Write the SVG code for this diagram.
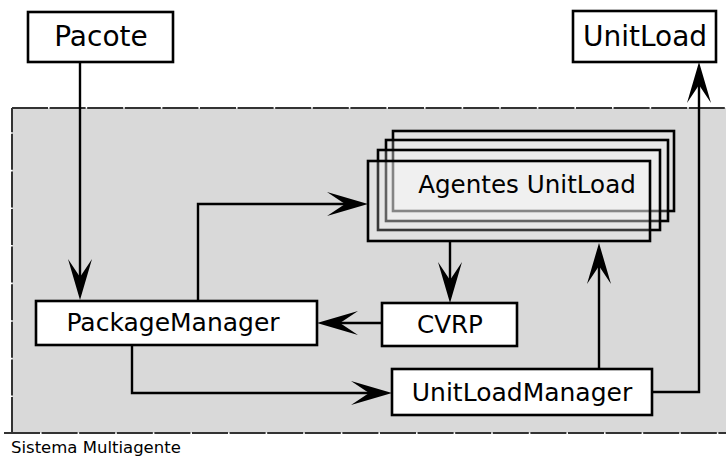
<svg xmlns="http://www.w3.org/2000/svg" width="726" height="458" viewBox="0 0 726 458">
<style>
.t{font-family:"DejaVu Sans",sans-serif;fill:#000;text-anchor:middle}
.box{fill:#fff;stroke:#000;stroke-width:2.6}
.ag{fill:#fff;fill-opacity:0.22;stroke:#000;stroke-width:2.6}
.c{fill:none;stroke:#000;stroke-width:2.4}
.dash{fill:none;stroke:#333;stroke-width:2;stroke-dasharray:36 1.6}
</style>
<defs>
<marker id="ah" viewBox="-42 -13 44 26" refX="-20" refY="0" markerWidth="44" markerHeight="26" orient="auto" markerUnits="userSpaceOnUse">
<path d="M0,0 L-41,-12 L-23,0 L-41,12 Z" fill="#000"/>
</marker>
</defs>
<g id="container">
<rect x="12" y="108" width="730" height="325" fill="#d9d9d9"/>
<path class="dash" d="M12,108 H742"/>
<path class="dash" d="M12,433 V108"/>
<path class="dash" d="M4,433 H742"/>
<text x="11" y="453" style="font-family:'DejaVu Sans',sans-serif;font-size:16.5px;fill:#000">Sistema Multiagente</text>
</g>
<g id="pacote">
<rect class="box" x="28" y="12" width="145" height="50"/>
<text class="t" x="101" y="46" font-size="28">Pacote</text>
</g>
<g id="unitload">
<rect class="box" x="573" y="11" width="143" height="51"/>
<text class="t" x="645" y="46" font-size="28">UnitLoad</text>
</g>
<g id="agentes">
<rect class="ag" x="393" y="131" width="281" height="80"/>
<rect class="ag" x="386" y="140" width="282" height="81"/>
<rect class="ag" x="378" y="150" width="282" height="80"/>
<rect class="ag" x="368" y="161" width="282" height="80"/>
<text class="t" x="527" y="193" font-size="24.6">Agentes UnitLoad</text>
</g>
<g id="packagemanager">
<rect class="box" x="36" y="301" width="281" height="44"/>
<text class="t" x="173" y="331" font-size="25">PackageManager</text>
</g>
<g id="cvrp">
<rect class="box" x="382" y="303" width="135" height="43"/>
<text class="t" x="450" y="333" font-size="24.6">CVRP</text>
</g>
<g id="unitloadmanager">
<rect class="box" x="392" y="369" width="260" height="46"/>
<text class="t" x="522" y="401" font-size="25">UnitLoadManager</text>
</g>
<g id="connectors">
<path class="c" d="M80,62 V280" marker-end="url(#ah)"/>
<path class="c" d="M198,301 V204 H348" marker-end="url(#ah)"/>
<path class="c" d="M450,241 V283" marker-end="url(#ah)"/>
<path class="c" d="M382,323 H337" marker-end="url(#ah)"/>
<path class="c" d="M132,345 V393 H372" marker-end="url(#ah)"/>
<path class="c" d="M599,369 V263" marker-end="url(#ah)"/>
<path class="c" d="M652,392 H699 V82" marker-end="url(#ah)"/>
</g>
</svg>
